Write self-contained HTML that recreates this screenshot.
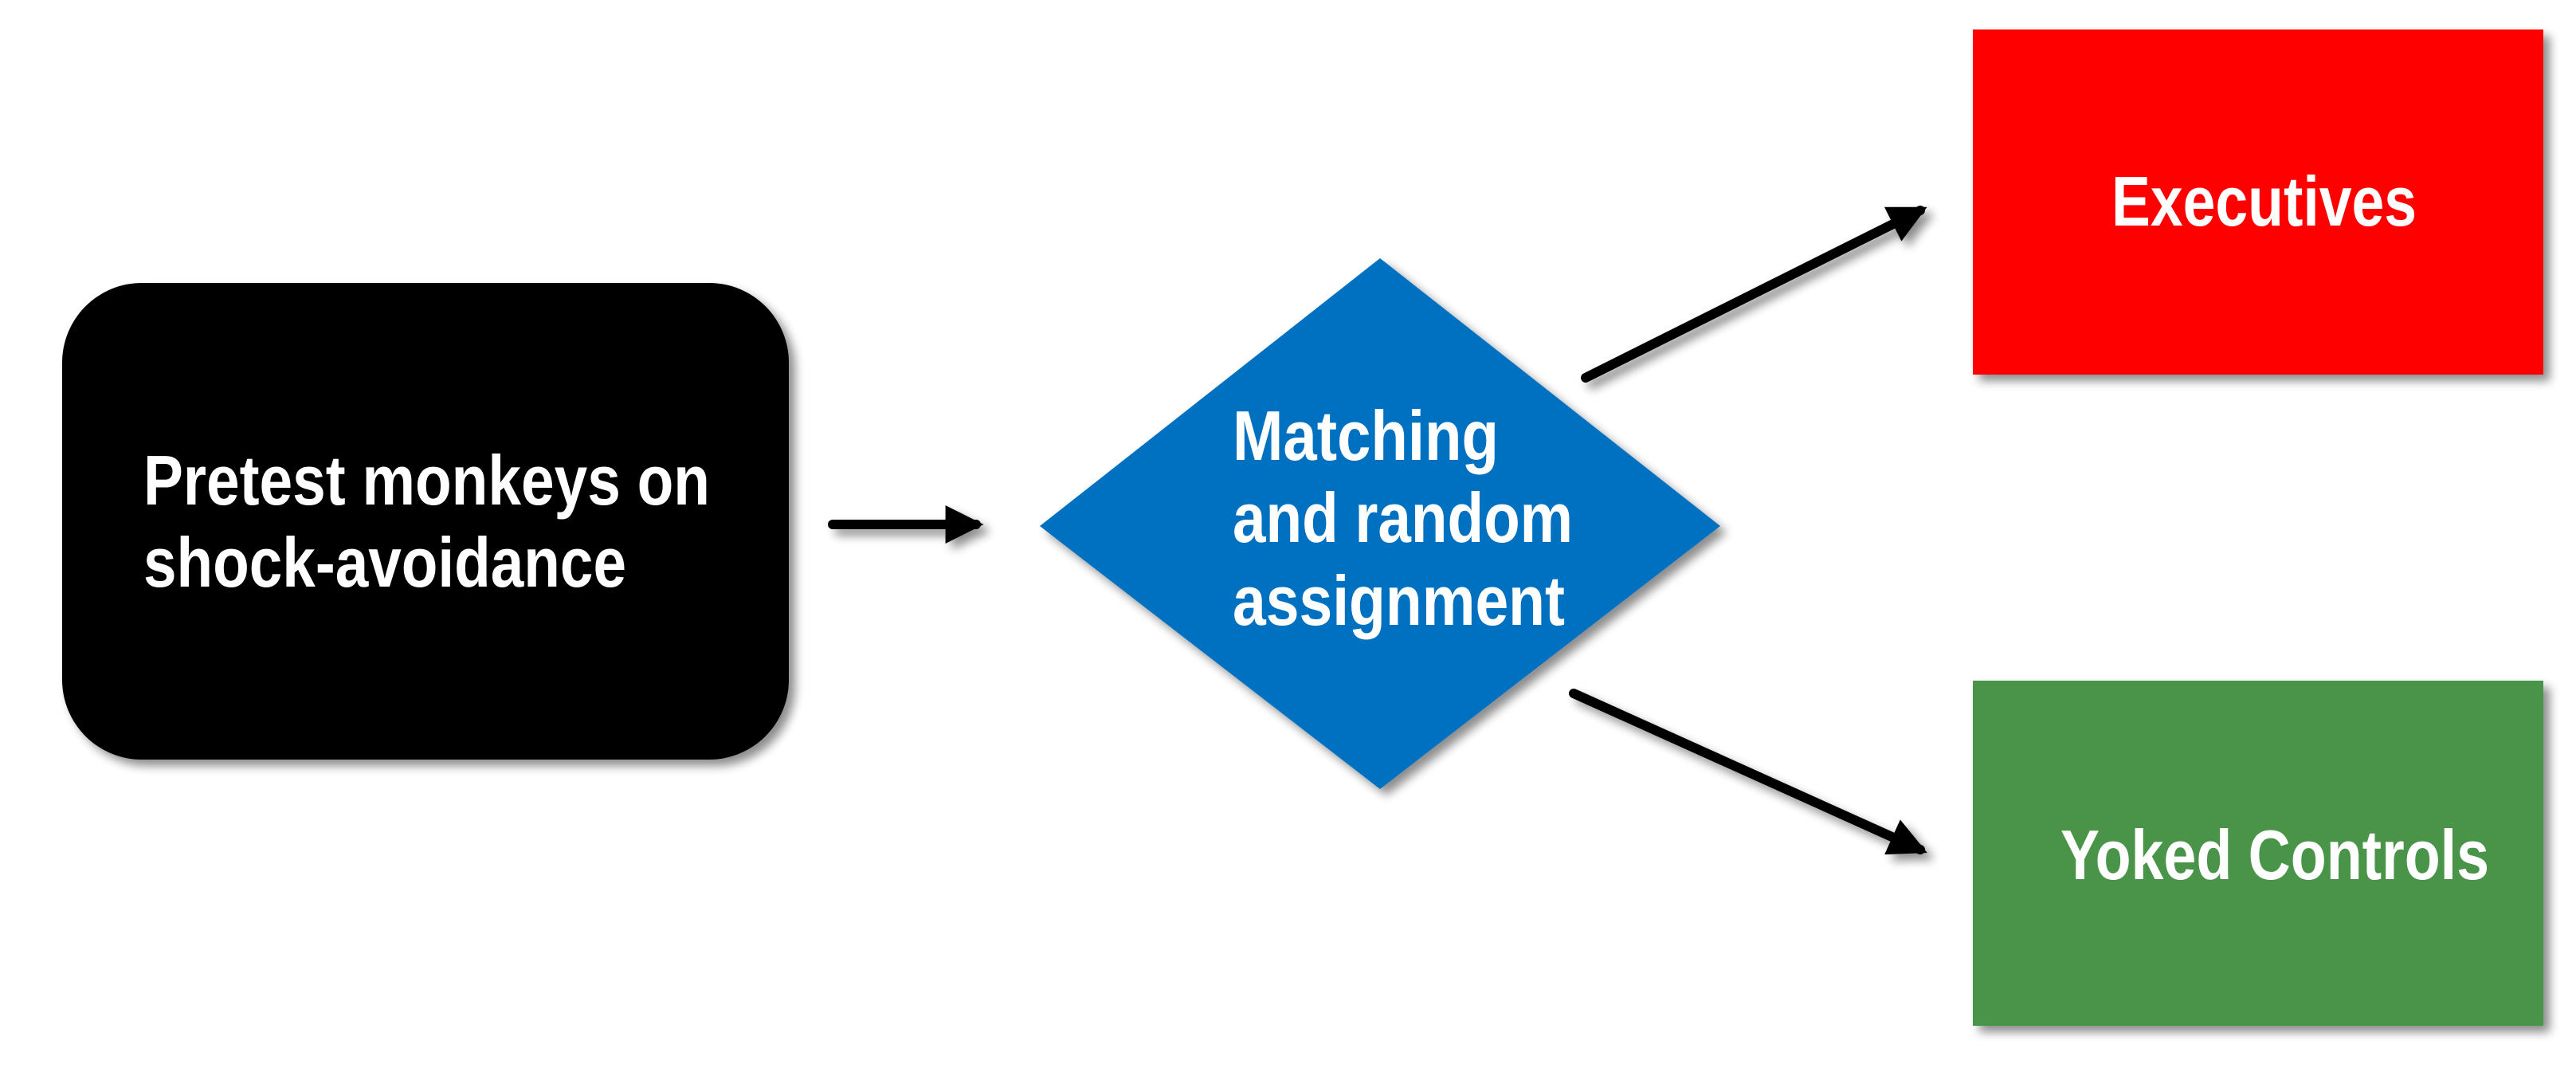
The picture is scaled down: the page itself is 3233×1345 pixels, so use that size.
<!DOCTYPE html>
<html><head><meta charset="utf-8"><style>html,body{margin:0;padding:0;background:#fff}svg{display:block}</style></head>
<body>
<svg width="3233" height="1345" viewBox="0 0 3233 1345" xmlns="http://www.w3.org/2000/svg">
<defs>
<filter id="sh" x="-10%" y="-10%" width="130%" height="130%">
<feGaussianBlur in="SourceAlpha" stdDeviation="6"/>
<feOffset dx="8" dy="8" result="b"/>
<feComponentTransfer><feFuncA type="linear" slope="0.45"/></feComponentTransfer>
<feMerge><feMergeNode/><feMergeNode in="SourceGraphic"/></feMerge>
</filter>
<marker id="ah" markerWidth="4" markerHeight="4" refX="3.2" refY="2" orient="auto" markerUnits="strokeWidth">
<path d="M0,0 L4,2 L0,4 Z" fill="#000"/>
</marker>
</defs>
<g font-family="'Liberation Sans Narrow','Liberation Sans',sans-serif" font-weight="bold" font-size="88" fill="#fff">
<rect x="78" y="355" width="912" height="598" rx="100" fill="#000" filter="url(#sh)"/>
<text x="180" y="633" textLength="711" lengthAdjust="spacingAndGlyphs">Pretest monkeys on</text>
<text x="180" y="736" textLength="606" lengthAdjust="spacingAndGlyphs">shock-avoidance</text>

<polygon points="1732,324 2159,660 1732,990 1305,660" fill="#0070c0" filter="url(#sh)"/>
<text x="1547" y="577" textLength="334" lengthAdjust="spacingAndGlyphs">Matching</text>
<text x="1547" y="680" textLength="427" lengthAdjust="spacingAndGlyphs">and random</text>
<text x="1547" y="784" textLength="417" lengthAdjust="spacingAndGlyphs">assignment</text>

<rect x="2476" y="37" width="716" height="433" fill="#ff0000" filter="url(#sh)"/>
<text x="2650" y="283" textLength="383" lengthAdjust="spacingAndGlyphs">Executives</text>

<rect x="2476" y="854" width="716" height="433" fill="#4a944a" filter="url(#sh)"/>
<text x="2586" y="1103" textLength="538" lengthAdjust="spacingAndGlyphs">Yoked Controls</text>
</g>
<g stroke="#000" stroke-width="12" stroke-linecap="round" fill="none" filter="url(#sh)">
<line x1="1045" y1="658" x2="1225" y2="658" marker-end="url(#ah)"/>
<line x1="1990" y1="474" x2="2410" y2="264" marker-end="url(#ah)"/>
<line x1="1975" y1="870" x2="2410" y2="1066" marker-end="url(#ah)"/>
</g>
</svg>
</body></html>
